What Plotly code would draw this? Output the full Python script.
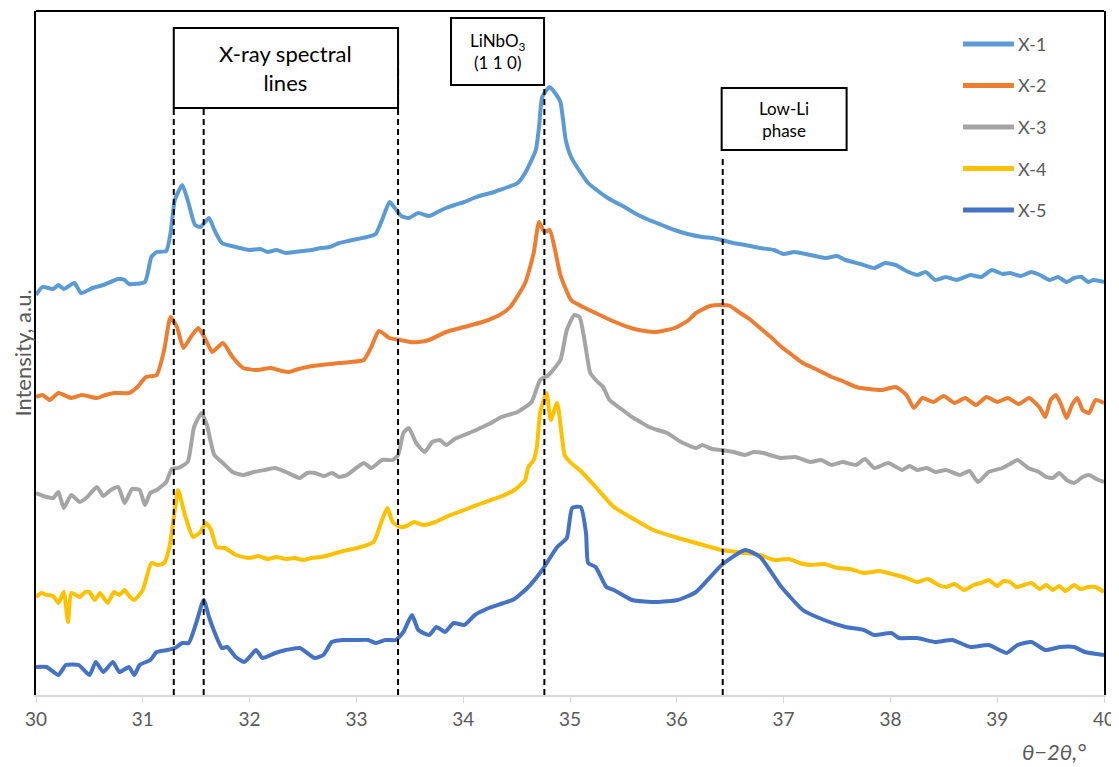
import plotly.graph_objects as go

# ---------------- data (θ–2θ in degrees, intensity in arbitrary units, curves offset) ----------------
series_names = ["X-1", "X-2", "X-3", "X-4", "X-5"]
series_colors = ["#5B9BD5", "#ED7D31", "#A5A5A5", "#FFC000", "#4472C4"]

x1 = [30.00, 30.06, 30.16, 30.21, 30.26, 30.36, 30.42, 30.53, 30.63, 30.77, 30.83, 30.87, 31.02, 31.08,
      31.13, 31.22, 31.26, 31.30, 31.37, 31.42, 31.49, 31.54, 31.62, 31.67, 31.74, 31.87, 32.00, 32.10,
      32.17, 32.25, 32.34, 32.42, 32.50, 32.58, 32.67, 32.75, 32.84, 32.92, 33.01, 33.10, 33.18, 33.24,
      33.31, 33.36, 33.42, 33.49, 33.58, 33.68, 33.76, 33.84, 33.92, 34.01, 34.10, 34.18, 34.26, 34.34,
      34.42, 34.51, 34.58, 34.68, 34.71, 34.74, 34.81, 34.86, 34.91, 34.96, 35.01, 35.09, 35.17, 35.25,
      35.34, 35.42, 35.51, 35.62, 35.74, 35.86, 35.98, 36.10, 36.24, 36.33, 36.42, 36.53, 36.64, 36.78,
      36.91, 37.00, 37.10, 37.25, 37.40, 37.50, 37.58, 37.72, 37.85, 37.95, 38.05, 38.15, 38.25, 38.33,
      38.42, 38.52, 38.62, 38.75, 38.85, 38.95, 39.05, 39.12, 39.22, 39.32, 39.40, 39.49, 39.57, 39.65,
      39.72, 39.79, 39.85, 39.90, 40.00]
y1 = [400, 408, 406, 410, 406, 412, 402, 407, 410, 416, 415, 411, 413, 438,
      443, 444, 462, 495, 510, 495, 470, 468, 477, 465, 452, 448, 445, 446,
      443, 445, 442, 443, 444, 445, 447, 448, 452, 454, 456, 458, 461, 475,
      493, 487, 479, 477, 482, 479, 483, 487, 490, 493, 497, 500, 502, 505,
      508, 512, 522, 545, 568, 598, 608, 602, 593, 555, 538, 524, 512, 505,
      498, 493, 488, 481, 475, 470, 465, 461, 458, 457, 455, 452, 450, 447,
      445, 441, 443, 440, 437, 439, 435, 431, 427, 432, 430, 424, 420, 423,
      415, 418, 415, 420, 418, 425, 421, 422, 419, 423, 420, 415, 418, 413,
      417, 418, 413, 415, 413]

x2 = [30.00, 30.06, 30.13, 30.21, 30.33, 30.43, 30.57, 30.65, 30.73, 30.87, 30.95, 31.03, 31.13, 31.20,
      31.26, 31.32, 31.38, 31.45, 31.52, 31.59, 31.65, 31.75, 31.84, 31.94, 32.07, 32.20, 32.30, 32.37,
      32.46, 32.54, 32.67, 32.76, 32.84, 32.95, 33.07, 33.14, 33.21, 33.31, 33.41, 33.50, 33.58, 33.68,
      33.84, 34.01, 34.18, 34.34, 34.44, 34.58, 34.66, 34.71, 34.76, 34.81, 34.86, 34.91, 35.01, 35.12,
      35.24, 35.40, 35.57, 35.70, 35.81, 35.98, 36.10, 36.18, 36.31, 36.42, 36.50, 36.58, 36.68, 36.78,
      36.88, 36.98, 37.08, 37.18, 37.30, 37.45, 37.55, 37.68, 37.80, 37.92, 38.05, 38.15, 38.22, 38.30,
      38.40, 38.50, 38.60, 38.70, 38.80, 38.90, 39.00, 39.10, 39.20, 39.30, 39.40, 39.45, 39.50, 39.55,
      39.60, 39.65, 39.70, 39.75, 39.80, 39.86, 39.92, 40.00]
y2 = [298, 300, 295, 302, 297, 300, 297, 300, 302, 302, 308, 318, 320, 345,
      378, 368, 347, 358, 367, 355, 343, 352, 338, 327, 325, 327, 324, 323,
      326, 328, 330, 331, 332, 333, 335, 348, 364, 357, 355, 353, 353, 355,
      363, 368, 373, 380, 388, 412, 442, 473, 463, 465, 445, 420, 395, 388,
      382, 374, 367, 364, 363, 367, 374, 382, 389, 390, 389, 383, 376, 367,
      358, 348, 340, 332, 326, 318, 314, 308, 306, 305, 308, 300, 287, 297,
      293, 299, 292, 297, 290, 298, 293, 297, 291, 297, 287, 278, 295, 300,
      290, 277, 290, 297, 285, 282, 295, 292]

x3 = [30.00, 30.10, 30.16, 30.21, 30.26, 30.33, 30.41, 30.48, 30.57, 30.63, 30.70, 30.77, 30.83, 30.90,
      30.97, 31.02, 31.07, 31.13, 31.22, 31.27, 31.33, 31.42, 31.48, 31.55, 31.60, 31.67, 31.75, 31.84,
      31.94, 32.04, 32.14, 32.24, 32.34, 32.47, 32.54, 32.61, 32.70, 32.77, 32.84, 32.91, 33.01, 33.07,
      33.14, 33.24, 33.34, 33.39, 33.44, 33.49, 33.56, 33.64, 33.71, 33.78, 33.84, 33.92, 34.01, 34.10,
      34.18, 34.26, 34.34, 34.42, 34.51, 34.64, 34.72, 34.80, 34.91, 34.97, 35.04, 35.09, 35.14, 35.19,
      35.25, 35.31, 35.37, 35.48, 35.58, 35.66, 35.74, 35.82, 35.91, 36.04, 36.18, 36.24, 36.33, 36.42,
      36.53, 36.64, 36.72, 36.81, 36.90, 36.98, 37.11, 37.25, 37.35, 37.45, 37.55, 37.68, 37.76, 37.85,
      37.98, 38.11, 38.18, 38.25, 38.34, 38.42, 38.52, 38.65, 38.74, 38.82, 38.92, 39.05, 39.12, 39.19,
      39.29, 39.39, 39.46, 39.52, 39.58, 39.65, 39.72, 39.80, 39.86, 39.93, 40.00]
y3 = [202, 198, 197, 203, 187, 200, 193, 198, 208, 199, 205, 208, 192, 206,
      205, 190, 202, 205, 213, 226, 227, 233, 268, 282, 270, 240, 232, 223,
      220, 223, 225, 227, 223, 217, 222, 222, 219, 222, 218, 220, 228, 232,
      227, 235, 235, 240, 262, 267, 252, 243, 253, 255, 250, 256, 260, 264,
      268, 272, 277, 280, 283, 293, 315, 320, 335, 365, 380, 378, 352, 322,
      314, 308, 295, 286, 278, 273, 268, 265, 262, 253, 247, 250, 246, 245,
      243, 240, 243, 242, 239, 237, 238, 233, 235, 230, 233, 230, 236, 227,
      232, 225, 229, 225, 227, 223, 225, 220, 224, 213, 223, 227, 231, 235,
      227, 223, 218, 217, 222, 215, 212, 218, 220, 216, 213]

x4 = [30.00, 30.05, 30.10, 30.16, 30.21, 30.26, 30.30, 30.33, 30.41, 30.46, 30.50, 30.55, 30.60, 30.67,
      30.73, 30.78, 30.83, 30.88, 30.92, 31.00, 31.08, 31.14, 31.20, 31.25, 31.30, 31.33, 31.40, 31.47,
      31.54, 31.59, 31.64, 31.69, 31.77, 31.87, 32.00, 32.08, 32.17, 32.25, 32.34, 32.42, 32.50, 32.58,
      32.67, 32.75, 32.84, 32.92, 33.01, 33.16, 33.24, 33.29, 33.34, 33.41, 33.47, 33.54, 33.63, 33.74,
      33.88, 34.01, 34.18, 34.34, 34.48, 34.58, 34.61, 34.66, 34.69, 34.72, 34.78, 34.82, 34.88, 34.95,
      35.00, 35.11, 35.24, 35.41, 35.58, 35.78, 35.98, 36.18, 36.42, 36.64, 36.78, 36.91, 37.05, 37.15,
      37.25, 37.38, 37.51, 37.62, 37.75, 37.90, 38.05, 38.15, 38.25, 38.35, 38.45, 38.52, 38.60, 38.69,
      38.78, 38.85, 38.92, 39.00, 39.06, 39.12, 39.18, 39.25, 39.32, 39.40, 39.46, 39.52, 39.58, 39.64,
      39.72, 39.78, 39.85, 39.92, 40.00]
y4 = [98, 102, 100, 99, 92, 103, 73, 102, 98, 103, 103, 95, 102, 92,
      103, 100, 105, 98, 95, 105, 132, 130, 132, 148, 185, 205, 178, 158,
      163, 172, 165, 148, 147, 140, 137, 139, 136, 138, 136, 137, 135, 137,
      138, 140, 143, 145, 147, 153, 175, 187, 173, 168, 169, 173, 170, 173,
      180, 185, 192, 198, 205, 215, 228, 235, 248, 282, 302, 275, 292, 240,
      233, 223, 208, 188, 177, 165, 158, 152, 145, 142, 140, 135, 136, 132,
      130, 131, 127, 126, 122, 124, 120, 117, 113, 116, 110, 108, 111, 105,
      110, 112, 115, 109, 114, 113, 108, 110, 112, 106, 110, 105, 109, 104,
      110, 106, 108, 108, 103]

x5 = [30.00, 30.10, 30.21, 30.28, 30.40, 30.50, 30.56, 30.63, 30.72, 30.78, 30.87, 30.92, 30.97, 31.07,
      31.13, 31.23, 31.30, 31.37, 31.43, 31.50, 31.57, 31.62, 31.69, 31.74, 31.79, 31.87, 31.95, 32.00,
      32.06, 32.12, 32.24, 32.34, 32.47, 32.61, 32.69, 32.77, 32.87, 33.01, 33.11, 33.18, 33.27, 33.37,
      33.44, 33.52, 33.58, 33.68, 33.75, 33.83, 33.91, 34.01, 34.11, 34.24, 34.38, 34.48, 34.61, 34.74,
      34.88, 34.97, 35.02, 35.10, 35.15, 35.17, 35.24, 35.34, 35.41, 35.58, 35.81, 36.01, 36.18, 36.42,
      36.64, 36.78, 36.98, 37.18, 37.38, 37.58, 37.75, 37.85, 38.01, 38.08, 38.25, 38.42, 38.58, 38.75,
      38.92, 39.09, 39.19, 39.32, 39.45, 39.59, 39.72, 39.82, 40.00]
y5 = [28, 28, 20, 30, 30, 20, 33, 23, 33, 23, 28, 20, 30, 35,
      43, 45, 47, 52, 52, 72, 95, 78, 58, 47, 48, 38, 33, 38,
      45, 37, 42, 45, 47, 37, 40, 53, 55, 55, 55, 52, 55, 55,
      63, 80, 65, 60, 68, 63, 72, 70, 80, 87, 92, 96, 108, 125,
      148, 157, 187, 188, 162, 132, 128, 108, 105, 95, 93, 95, 103, 130,
      145, 138, 108, 85, 75, 68, 65, 60, 62, 57, 57, 53, 55, 48,
      50, 42, 50, 53, 45, 48, 48, 43, 40]

xs = [x1, x2, x3, x4, x5]
ys = [y1, y2, y3, y4, y5]

x_ticks = [30, 31, 32, 33, 34, 35, 36, 37, 38, 39, 40]
x_range = [30, 40]
y_range = [0, 684]

# reference lines (θ–2θ positions)
ref_lines_x = [31.29, 31.57, 33.39, 34.76, 36.43]
ref_lines_top = [587, 587, 635, 610, 540]

# label boxes: (x0, x1, y0, y1, text, font size)
boxes = [
    (31.29, 33.39, 587, 667, "X-ray spectral<br>lines", 22),
    (33.886, 34.757, 610, 677, "LiNbO<sub>3</sub><br>(1 1 0)", 17),
    (36.42, 37.59, 545, 607, "Low-Li<br>phase", 17),
]

FONT = "Lato, 'Open Sans', sans-serif"
GRAY_TXT = "#595959"

fig = go.Figure()
for name, color, xv, yv in zip(series_names, series_colors, xs, ys):
    fig.add_trace(go.Scatter(x=xv, y=yv, mode="lines", name=name,
                             line=dict(color=color, width=4, shape="spline", smoothing=0.5),
                             showlegend=False))

shapes = []
annotations = []

for xv, top in zip(ref_lines_x, ref_lines_top):
    shapes.append(dict(type="line", xref="x", yref="y", x0=xv, x1=xv, y0=0, y1=top,
                       line=dict(color="black", width=2, dash="6px,4px")))

for (bx0, bx1, by0, by1, txt, fs) in boxes:
    shapes.append(dict(type="rect", xref="x", yref="y", x0=bx0, x1=bx1, y0=by0, y1=by1,
                       line=dict(color="black", width=2), fillcolor="white", layer="above"))
    annotations.append(dict(x=(bx0 + bx1) / 2, y=(by0 + by1) / 2, xref="x", yref="y",
                            text=txt, showarrow=False, align="center",
                            font=dict(family=FONT, size=fs, color="black")))

# top border of the plot frame
shapes.append(dict(type="line", xref="paper", yref="paper", x0=0, x1=1, y0=1, y1=1,
                   line=dict(color="black", width=2)))

# manual legend
leg_x0, leg_x1, leg_tx = 0.868, 0.9157, 0.9175
leg_y0, leg_dy = 0.9518, 0.0607
for i, (name, color) in enumerate(zip(series_names, series_colors)):
    yy = leg_y0 - i * leg_dy
    shapes.append(dict(type="line", xref="paper", yref="paper", x0=leg_x0, x1=leg_x1,
                       y0=yy, y1=yy, line=dict(color=color, width=5)))
    annotations.append(dict(x=leg_tx, y=yy, xref="paper", yref="paper", text=name,
                            showarrow=False, xanchor="left", yanchor="middle",
                            font=dict(family=FONT, size=18, color=GRAY_TXT)))

# axis titles
annotations.append(dict(x=0.985, y=-0.083, xref="paper", yref="paper", text="<i>θ−2θ,°</i>",
                        showarrow=False, xanchor="right", yanchor="middle",
                        font=dict(family=FONT, size=22, color=GRAY_TXT)))
annotations.append(dict(x=-0.0135, y=0.50, xref="paper", yref="paper", text="Intensity, a.u.",
                        showarrow=False, textangle=-90, xanchor="center", yanchor="middle",
                        font=dict(family=FONT, size=22, color=GRAY_TXT)))

# the page body adds an 8px offset, so the figure is sized to fill the remaining window
fig.update_layout(
    width=1111, height=759,
    margin=dict(l=28, r=15, t=3, b=72),
    paper_bgcolor="white", plot_bgcolor="white",
    shapes=shapes, annotations=annotations,
    xaxis=dict(range=x_range, tickvals=x_ticks, ticktext=[str(t) for t in x_ticks],
               showgrid=False, zeroline=False, showline=True, linecolor="#D9D9D9", linewidth=2,
               ticks="outside", ticklen=6, tickcolor="#D9D9D9", tickwidth=1,
               tickfont=dict(family=FONT, size=19, color=GRAY_TXT)),
    yaxis=dict(range=y_range, showticklabels=False, showgrid=False, zeroline=False,
               showline=True, linecolor="black", linewidth=2, mirror=True, ticks=""),
)

fig.write_html("out.html")
